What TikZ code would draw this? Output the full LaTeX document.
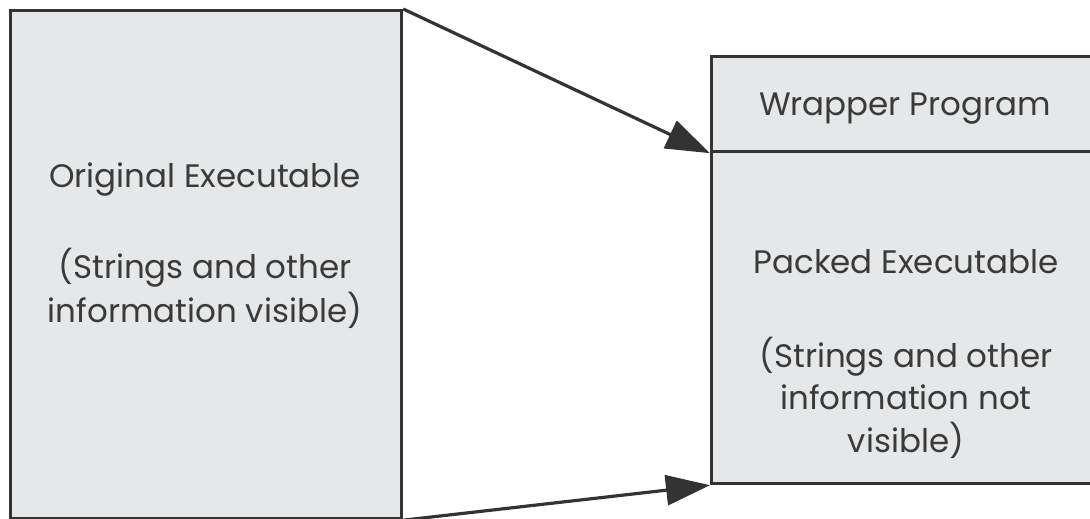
\documentclass[tikz,border=0pt]{standalone}
\usepackage{fontspec}
\setmainfont{Poppins}
\usetikzlibrary{arrows.meta}
\definecolor{boxfill}{HTML}{E6E7E8}
\definecolor{edge}{HTML}{333333}
\definecolor{txt}{HTML}{3A3A3A}
\begin{document}
\begin{tikzpicture}[x=1pt,y=-1pt,
  box/.style={draw=edge,fill=boxfill,line width=3.2pt,rectangle,inner sep=0pt,anchor=north west},
  lbl/.style={text=txt,font=\fontsize{32.5}{38}\selectfont,anchor=base,inner sep=0pt},
  conn/.style={draw=edge,line width=3.2pt,-{Triangle[length=44pt,width=30pt]}}]
\useasboundingbox (0,0) rectangle (1090,519);
\node[box,minimum width=391pt,minimum height=508pt] (orig) at (9,9) {};
\node[box,minimum width=390pt,minimum height=95pt] (wrap) at (710,55) {};
\node[box,minimum width=390pt,minimum height=332pt] (packed) at (710,150) {};
\node[lbl] (o1) at (205,187) {Original Executable};
\node[lbl] (o2) at (205,278) {(Strings and other};
\node[lbl] (o3) at (205,322) {information visible)};
\node[lbl] (w1) at (905,115) {Wrapper Program};
\node[lbl] (p1) at (906,273) {Packed Executable};
\node[lbl] (p2) at (906,367) {(Strings and other};
\node[lbl] (p3) at (906,409) {information not};
\node[lbl] (p4) at (906,452) {visible)};
\draw[conn] (orig.north east) -- (wrap.south west);
\draw[conn] (orig.south east) -- (packed.south west);
\end{tikzpicture}
\end{document}
